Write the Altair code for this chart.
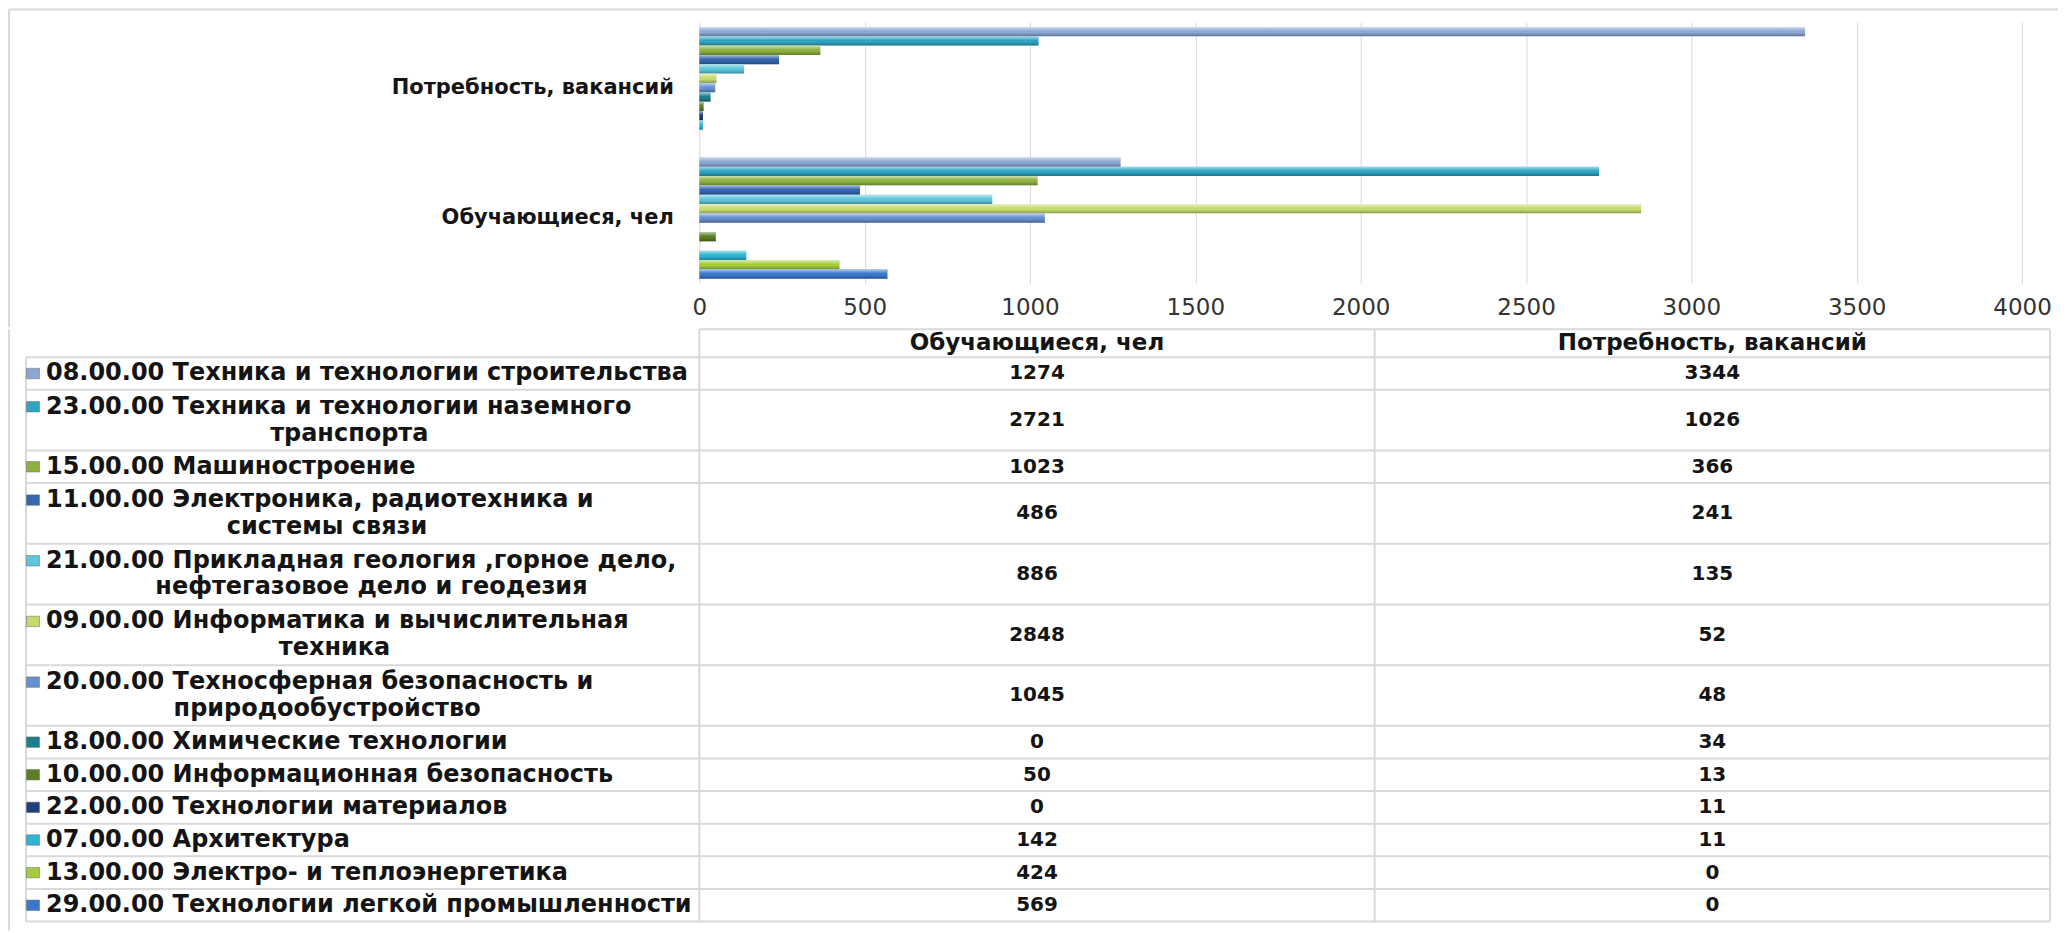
import altair as alt
import pandas as pd

# ---------------- data ----------------
series_labels = [
    "08.00.00 Техника и технологии строительства",
    "23.00.00 Техника и технологии наземного\nтранспорта",
    "15.00.00 Машиностроение",
    "11.00.00 Электроника, радиотехника и\nсистемы связи",
    "21.00.00 Прикладная геология ,горное дело,\nнефтегазовое дело и геодезия",
    "09.00.00 Информатика и вычислительная\nтехника",
    "20.00.00 Техносферная безопасность и\nприродообустройство",
    "18.00.00 Химические технологии",
    "10.00.00 Информационная безопасность",
    "22.00.00 Технологии материалов",
    "07.00.00 Архитектура",
    "13.00.00 Электро- и теплоэнергетика",
    "29.00.00 Технологии легкой промышленности",
]
categories = ["Обучающиеся, чел", "Потребность, вакансий"]
students = [1274, 2721, 1023, 486, 886, 2848, 1045, 0, 50, 0, 142, 424, 569]
vacancies = [3344, 1026, 366, 241, 135, 52, 48, 34, 13, 11, 11, 0, 0]
series_colors = [
    "#8DA7D4", "#2FA4C2", "#8DB23F", "#3567B0", "#5CC6DE", "#C4DC6E", "#6690D2",
    "#1E7E8E", "#5E7E26", "#1F3F78", "#2DB5D4", "#A6CC3E", "#3A78CC",
]
x_ticks = [0, 500, 1000, 1500, 2000, 2500, 3000, 3500, 4000]

codes = [s.split()[0] for s in series_labels]
FONT = "DejaVu Sans"
GRID = "#D9D9D9"
TXT = "#141414"

# ---------------- bar chart ----------------
rows = []
for i, c in enumerate(codes):
    rows.append({"cat": categories[0], "code": c, "value": students[i]})
    rows.append({"cat": categories[1], "code": c, "value": vacancies[i]})
bars_df = pd.DataFrame(rows)

PW, PH = 1324, 261
color_scale = alt.Scale(domain=codes, range=series_colors)
cat_sort = [categories[1], categories[0]]

x_enc = alt.X(
    "value:Q",
    scale=alt.Scale(domain=[0, 4000], nice=False),
    axis=alt.Axis(values=x_ticks, format="d", title=None, grid=True, gridColor=GRID,
                  gridWidth=1, domain=False, ticks=False, labelFont=FONT, labelFontSize=23,
                  labelColor="#333333", labelPadding=13, labelFlush=False),
)
y_enc = alt.Y(
    "cat:N", sort=cat_sort,
    scale=alt.Scale(paddingInner=0.069, paddingOuter=0.0345),
    axis=alt.Axis(title=None, domain=False, ticks=False, labelFont=FONT,
                  labelFontWeight="bold", labelFontSize=21, labelColor=TXT,
                  labelPadding=26, labelLimit=0),
)
yo_enc = alt.YOffset("code:N", sort=codes, scale=alt.Scale(paddingInner=0, paddingOuter=0))

bars = alt.Chart(bars_df).mark_bar().encode(
    x=x_enc, y=y_enc, yOffset=yo_enc,
    color=alt.Color("code:N", scale=color_scale, legend=None),
)
shine_grad = alt.Gradient(
    gradient="linear", x1=0, x2=0, y1=0, y2=1,
    stops=[
        alt.GradientStop(color="rgba(255,255,255,0.6)", offset=0),
        alt.GradientStop(color="rgba(255,255,255,0.0)", offset=0.45),
        alt.GradientStop(color="rgba(0,0,0,0.0)", offset=0.6),
        alt.GradientStop(color="rgba(0,0,0,0.3)", offset=1),
    ],
)
shine = alt.Chart(bars_df).mark_bar(color=shine_grad).encode(
    x="value:Q", y=alt.Y("cat:N", sort=cat_sort),
    yOffset=alt.YOffset("code:N", sort=codes),
)

one = pd.DataFrame({"k": [0]})
border_top = alt.Chart(one).mark_rule(color=GRID, strokeWidth=2).encode(
    x=alt.value(-691), x2=alt.value(1360), y=alt.value(-13))
border_left_a = alt.Chart(one).mark_rule(color=GRID, strokeWidth=2).encode(
    x=alt.value(-691), y=alt.value(-13), y2=alt.value(305))

chart_a = alt.layer(bars, shine, border_top, border_left_a).properties(width=PW, height=PH)

# ---------------- data table ----------------
TW, TH = 1352, 593
HEADER_U = 0.86
DOUBLE_U = 1.86
LINE_U = 0.41

trows = []
y = HEADER_U
for i, lab in enumerate(series_labels):
    parts = lab.split("\n")
    u = 1.0 if len(parts) == 1 else DOUBLE_U
    mid = y + u / 2
    trows.append({
        "code": codes[i], "line1": parts[0], "line2": parts[1] if len(parts) > 1 else "",
        "y0": y, "y1": y + u, "ymid": mid,
        "yl1": mid if len(parts) == 1 else mid - LINE_U,
        categories[0]: students[i], categories[1]: vacancies[i],
    })
    y += u
TOTAL = y
tdf = pd.DataFrame(trows)

y_scale = alt.Scale(domain=[0, TOTAL], reverse=True, nice=False, zero=False)

hlines = alt.Chart(tdf).mark_rule(color=GRID, strokeWidth=2).encode(
    y=alt.Y("y1:Q", scale=y_scale, axis=None), x=alt.value(-674), x2=alt.value(TW))
hline_head_bottom = alt.Chart(one).mark_rule(color=GRID, strokeWidth=2).encode(
    y=alt.datum(HEADER_U), x=alt.value(-674), x2=alt.value(TW))
hline_head_top = alt.Chart(one).mark_rule(color=GRID, strokeWidth=2).encode(
    y=alt.datum(0), x=alt.value(0), x2=alt.value(TW))

vlines = [
    alt.Chart(one).mark_rule(color=GRID, strokeWidth=2).encode(
        x=alt.value(-674), y=alt.datum(HEADER_U), y2=alt.datum(TOTAL)),
]
for xv in [0, TW / 2, TW]:
    vlines.append(alt.Chart(one).mark_rule(color=GRID, strokeWidth=2).encode(
        x=alt.value(xv), y=alt.datum(0), y2=alt.datum(TOTAL)))

border_left_b = alt.Chart(one).mark_rule(color=GRID, strokeWidth=2).encode(
    x=alt.value(-691), y=alt.value(0), y2=alt.value(602))

col_scale = alt.Scale(domain=categories, paddingInner=0, paddingOuter=0)

values = alt.Chart(tdf).transform_fold(categories, as_=["col", "v"]).mark_text(
    font=FONT, fontSize=20, fontWeight="bold", color=TXT, baseline="middle").encode(
    x=alt.X("col:N", scale=col_scale, axis=None),
    y=alt.Y("ymid:Q"),
    text="v:Q",
)
head_df = pd.DataFrame({"col": categories})
header = alt.Chart(head_df).mark_text(
    font=FONT, fontSize=23, fontWeight="bold", color=TXT, baseline="middle").encode(
    x=alt.X("col:N", scale=col_scale, axis=None),
    y=alt.datum(HEADER_U / 2),
    text="col:N",
)

line1 = alt.Chart(tdf).mark_text(
    font=FONT, fontSize=24, fontWeight="bold", color=TXT, align="left", baseline="middle").encode(
    x=alt.value(-654), y="yl1:Q", text="line1:N")

line2_layers = []
for r in trows:
    if r["line2"]:
        cx = -639 + len(r["line1"]) * 7.4
        line2_layers.append(alt.Chart(one).mark_text(
            font=FONT, fontSize=24, fontWeight="bold", color=TXT, align="center",
            baseline="middle", text=r["line2"]).encode(
            x=alt.value(cx), y=alt.datum(r["ymid"] + LINE_U)))

swatch = alt.Chart(tdf).mark_point(
    shape="M-1,-0.8L1,-0.8L1,0.8L-1,0.8Z", filled=True, size=170, opacity=1,
    stroke="#666666", strokeWidth=0.5).encode(
    x=alt.value(-667), y="yl1:Q",
    color=alt.Color("code:N", scale=color_scale, legend=None),
)

chart_b = alt.layer(
    hlines, hline_head_bottom, hline_head_top, *vlines, border_left_b,
    values, header, line1, *line2_layers, swatch,
).properties(width=TW, height=TH)

chart = alt.vconcat(chart_a, chart_b, spacing=0).properties(
    padding=0, background="white"
).configure_view(stroke=None)

chart.save("out.html", embed_options={"renderer": "svg", "actions": False})
